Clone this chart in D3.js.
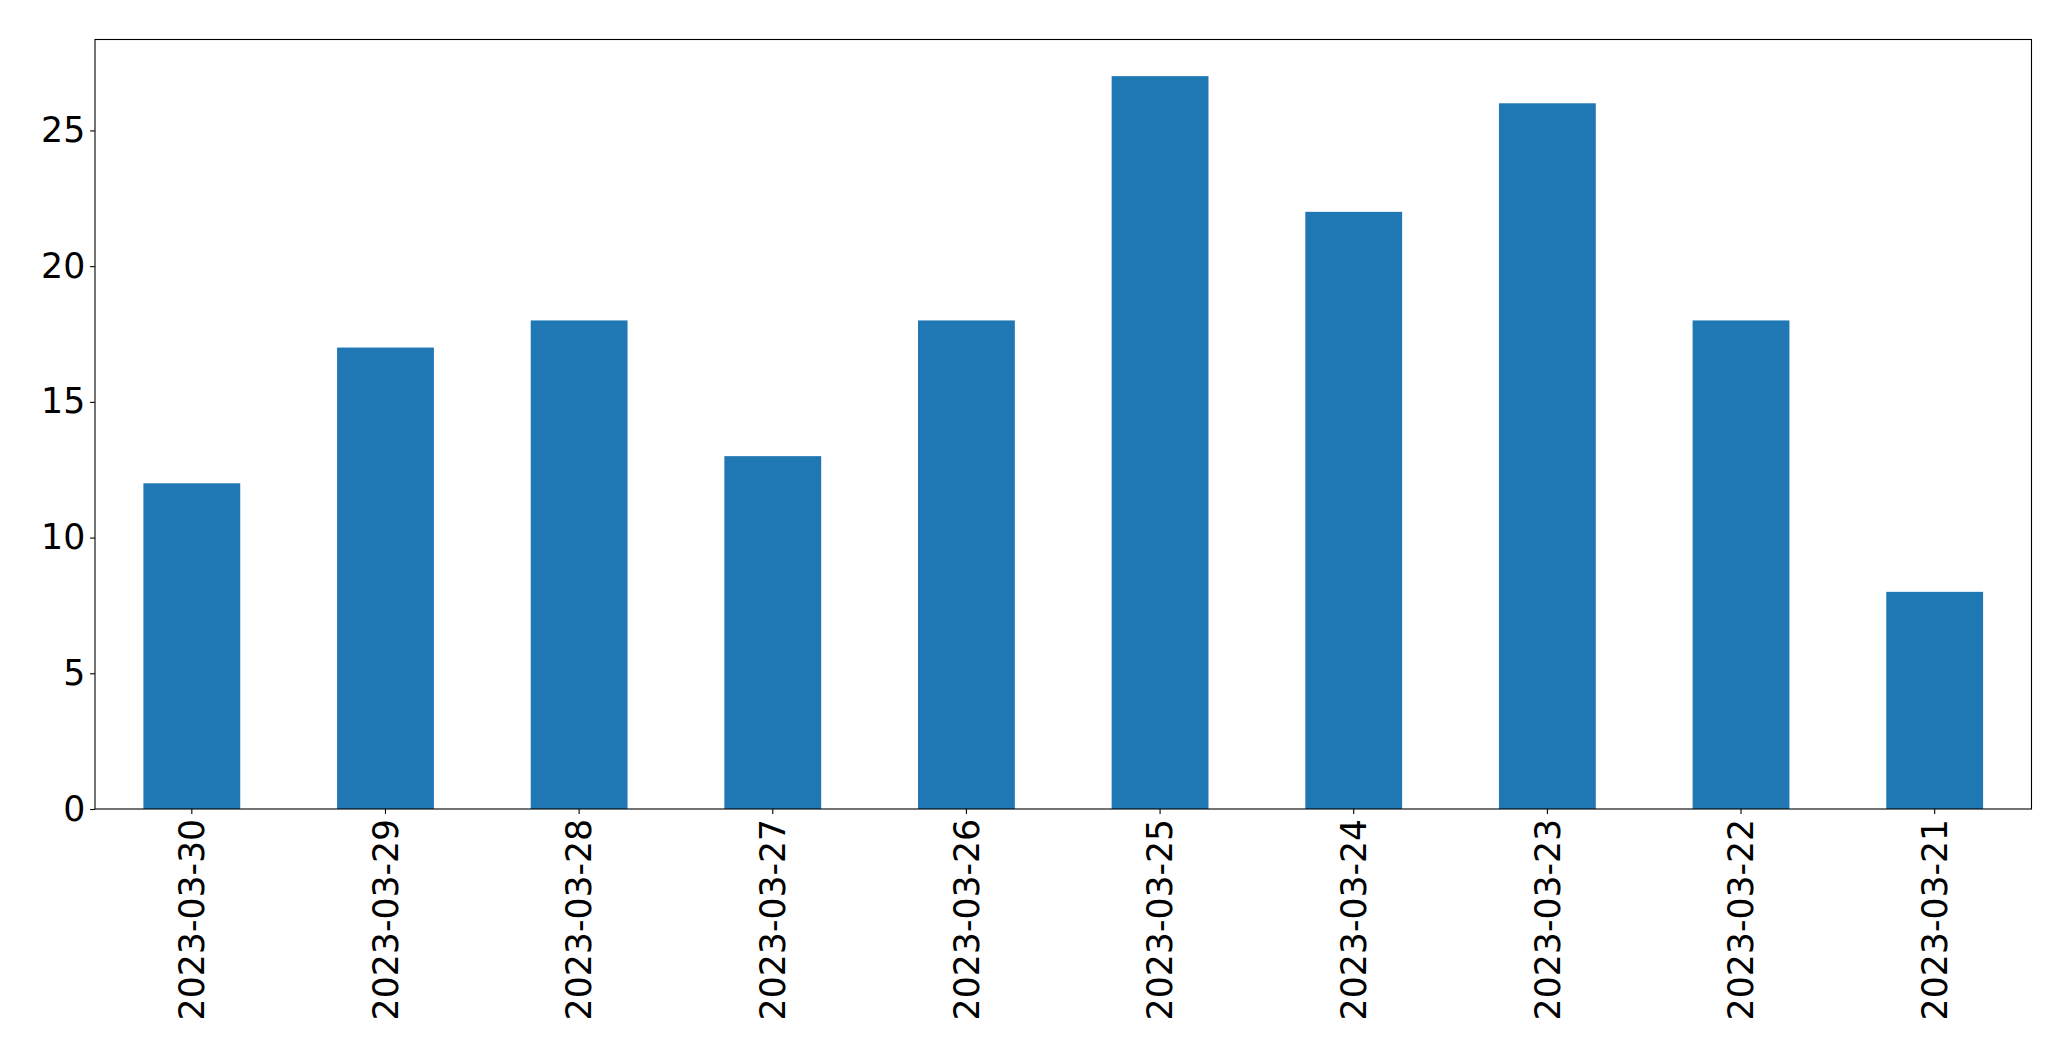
<!DOCTYPE html>
<html>
<head>
<meta charset="utf-8">
<script src="https://cdn.jsdelivr.net/npm/d3@7"></script>
<style>
  body { margin: 0; background: #fff; }
  text { font-family: "DejaVu Sans", sans-serif; }
</style>
</head>
<body>
<div id="wrapper"></div>
<script>
// Chart data
const dates = ["2023-03-30", "2023-03-29", "2023-03-28", "2023-03-27", "2023-03-26",
               "2023-03-25", "2023-03-24", "2023-03-23", "2023-03-22", "2023-03-21"];
const counts = [12, 17, 18, 13, 18, 27, 22, 26, 18, 8];
const yTicks = [0, 5, 10, 15, 20, 25];

function buildPlot() {
    let dimension = {
        width: 2071,
        height: 1061,
        margin: { top: 39.5, right: 39.5, bottom: 252, left: 95 },
    };
    dimension.boundedWidth = dimension.width - dimension.margin.left - dimension.margin.right;
    dimension.boundedHeight = dimension.height - dimension.margin.top - dimension.margin.bottom;

    const wrapper = d3.select("#wrapper")
        .append("svg")
        .attr("width", dimension.width)
        .attr("height", dimension.height);

    const bounds = wrapper.append("g")
        .attr("transform", `translate(${dimension.margin.left},${dimension.margin.top})`);

    // band scale: bars take half of each slot, like pandas bar plots
    const xScaler = d3.scaleBand()
        .domain(dates)
        .range([0, dimension.boundedWidth])
        .paddingInner(0.5)
        .paddingOuter(0.25);

    const yScaler = d3.scaleLinear()
        .domain([0, d3.max(counts) * 1.05])
        .range([dimension.boundedHeight, 0]);

    // bars
    bounds.selectAll("rect.bar")
        .data(counts)
        .join("rect")
        .attr("class", "bar")
        .attr("x", (d, i) => xScaler(dates[i]))
        .attr("y", d => yScaler(d))
        .attr("width", xScaler.bandwidth())
        .attr("height", d => dimension.boundedHeight - yScaler(d))
        .attr("fill", "#1f77b4");

    const fontSize = "34.7px";

    // y axis
    const yAxis = bounds.append("g")
        .call(d3.axisLeft(yScaler).tickValues(yTicks).tickSize(4.9).tickPadding(4.9).tickFormat(d3.format("d")));
    yAxis.select(".domain").remove();
    yAxis.selectAll("line").attr("stroke", "#000").attr("stroke-width", 1.1);
    yAxis.selectAll("text").attr("font-size", fontSize).attr("fill", "#000")
        .attr("font-family", "DejaVu Sans");

    // x axis with vertical labels
    const xAxis = bounds.append("g")
        .attr("transform", `translate(0,${dimension.boundedHeight})`)
        .call(d3.axisBottom(xScaler).tickSize(4.9).tickPadding(4.9));
    xAxis.select(".domain").remove();
    xAxis.selectAll("line").attr("stroke", "#000").attr("stroke-width", 1.1);
    xAxis.selectAll("text")
        .attr("font-size", fontSize)
        .attr("fill", "#000")
        .attr("font-family", "DejaVu Sans")
        .attr("text-anchor", "end")
        .attr("dy", "0.35em")
        .attr("transform", "translate(0,9.8) rotate(-90)")
        .attr("x", 0)
        .attr("y", 0);

    // frame
    bounds.append("rect")
        .attr("x", 0)
        .attr("y", 0)
        .attr("width", dimension.boundedWidth)
        .attr("height", dimension.boundedHeight)
        .attr("fill", "none")
        .attr("stroke", "#000")
        .attr("stroke-width", 1.1);
}

buildPlot();
</script>
</body>
</html>
